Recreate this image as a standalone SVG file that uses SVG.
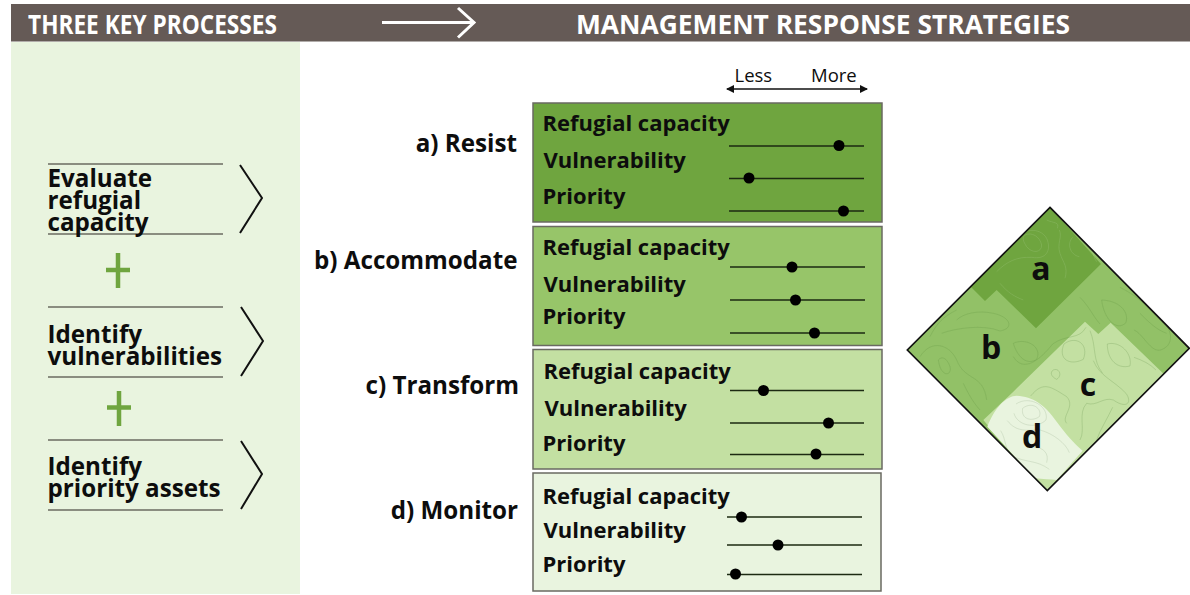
<svg xmlns="http://www.w3.org/2000/svg" width="1190" height="595" viewBox="0 0 1190 595">
<style>
text{font-family:"Open Sans","Noto Sans","Liberation Sans",sans-serif;fill:#0d0d0d}
.hd{font-size:26.9px;font-weight:700;fill:#fff}
.st{font-size:24.2px;font-weight:700}
.pr{font-size:24.2px;font-weight:700}
.rw{font-size:22px;font-weight:700}
.lm{font-size:18.500px;font-weight:400}
.dl{font-size:32px;font-weight:700}
.rule{stroke:#6b6b62;stroke-width:1.5;fill:none}
.box{stroke:#6a6a62;stroke-width:1.5}
.sl{stroke:#1c2a12;stroke-width:1.3}
.chev{fill:none;stroke:#111;stroke-width:2}
.plus{stroke:#6fa53f;stroke-width:4.5;fill:none}
.ca{fill:none;stroke:#cfe3bb;stroke-width:1.2;opacity:.4}
.cb{fill:none;stroke:#5f8f3e;stroke-width:1.200;opacity:.6}
.cc{fill:none;stroke:#6f9a55;stroke-width:1.200;opacity:.7}
.cd{fill:none;stroke:#9fb592;stroke-width:1.200;opacity:.7}
</style>
<defs>
<marker id="ah" viewBox="0 0 8 8" refX="7" refY="4" markerWidth="8" markerHeight="8" orient="auto-start-reverse" markerUnits="userSpaceOnUse"><path d="M0,0L8,4L0,8Z" fill="#111"/></marker>
<clipPath id="dia"><path d="M450,22L868,445L442,872L22,450Z"/></clipPath>
</defs>
<rect width="1190" height="595" fill="#fff"/>
<g id="header">
<rect x="11" y="4" width="1179" height="37.500" fill="#655a56"/>
<text class="hd" x="28" y="33.500" textLength="249" lengthAdjust="spacingAndGlyphs">THREE KEY PROCESSES</text>
<text class="hd" x="576" y="34" textLength="494" lengthAdjust="spacingAndGlyphs">MANAGEMENT RESPONSE STRATEGIES</text>
</g>
<rect id="panel" x="11" y="42" width="289" height="552" fill="#e9f4df"/>
<g id="connectors">
<path d="M382,22.500H473M458,8L474,22.500L458,37.500" fill="none" stroke="#fff" stroke-width="3"/>
<path class="chev" d="M240,165L262,198L240,233"/>
<path class="chev" d="M241,307L263,341L241,376"/>
<path class="chev" d="M241,441L262,474L241,509"/>
<path d="M727,89H867" stroke="#111" stroke-width="1.500" marker-start="url(#ah)" marker-end="url(#ah)" fill="none"/>
</g>
<g id="process-evaluate">
<path class="rule" d="M48,164H223M48,234H223"/>
<text class="pr" x="47.500" y="186.500">Evaluate</text><text class="pr" x="47.500" y="208.500">refugial</text><text class="pr" x="47.500" y="230.500">capacity</text>
</g>
<path id="plus-1" class="plus" d="M106,270H130M118,253V288"/>
<g id="process-vulnerabilities">
<path class="rule" d="M48,307H223M48,377H223"/>
<text class="pr" x="47.500" y="342.500">Identify</text><text class="pr" x="47.500" y="364.500">vulnerabilities</text>
</g>
<path id="plus-2" class="plus" d="M107,407.500H131M119,391V426"/>
<g id="process-priority">
<path class="rule" d="M48,440H223M48,510H223"/>
<text class="pr" x="47.500" y="474.500">Identify</text><text class="pr" x="47.500" y="496.500">priority assets</text>
</g>
<g id="scale">
<text class="lm" x="734.500" y="82">Less</text><text class="lm" x="811" y="82">More</text>
</g>
<g id="label-a"><text class="st" x="517" y="151.500" text-anchor="end">a) Resist</text></g>
<g id="label-b"><text class="st" x="517.500" y="268.500" text-anchor="end">b) Accommodate</text></g>
<g id="label-c"><text class="st" x="519" y="393.500" text-anchor="end">c) Transform</text></g>
<g id="label-d"><text class="st" x="518" y="518.500" text-anchor="end">d) Monitor</text></g>
<g id="box-a">
<rect class="box" x="533" y="103" width="349" height="119" fill="#6fa53f"/>
<text class="rw" x="542.500" y="131">Refugial capacity</text><text class="rw" x="543.500" y="167.500">Vulnerability</text><text class="rw" x="542.500" y="203.500">Priority</text>
<path class="sl" d="M729,146H864M729,178.500H864M729,211H864"/>
<circle cx="839" cy="145.500" r="5.500"/><circle cx="749" cy="178" r="5.500"/><circle cx="843.500" cy="211" r="5.500"/>
</g>
<g id="box-b">
<rect class="box" x="533" y="226.500" width="349" height="119" fill="#97c569"/>
<text class="rw" x="542.500" y="255">Refugial capacity</text><text class="rw" x="543.500" y="291.500">Vulnerability</text><text class="rw" x="542.500" y="323.500">Priority</text>
<path class="sl" d="M730,267H865M730,300H865M730,333H865"/>
<circle cx="792" cy="267" r="5.500"/><circle cx="795.500" cy="300" r="5.500"/><circle cx="814.500" cy="333" r="5.500"/>
</g>
<g id="box-c">
<rect class="box" x="533" y="349.500" width="349" height="119.500" fill="#c3e0a2"/>
<text class="rw" x="543.500" y="378.500">Refugial capacity</text><text class="rw" x="544.500" y="415.500">Vulnerability</text><text class="rw" x="542.500" y="450.500">Priority</text>
<path class="sl" d="M730,390.500H864M730,423H864M730,454.500H864"/>
<circle cx="763.500" cy="390.500" r="5.500"/><circle cx="828.500" cy="423" r="5.500"/><circle cx="816" cy="454" r="5.500"/>
</g>
<g id="box-d">
<rect class="box" x="533" y="473" width="348" height="118" fill="#e9f4df"/>
<text class="rw" x="542.500" y="504">Refugial capacity</text><text class="rw" x="543.500" y="537.500">Vulnerability</text><text class="rw" x="542.500" y="572">Priority</text>
<path class="sl" d="M727,517H862M727,545H862M727,574.500H862"/>
<circle cx="741.500" cy="517" r="5.500"/><circle cx="778" cy="545" r="5.500"/><circle cx="735.500" cy="574" r="5.500"/>
</g>
<g id="map">
<g transform="translate(900,200) scale(.3333)">
<g clip-path="url(#dia)">
<rect x="0" y="0" width="890" height="890" fill="#92c167"/>
<path d="M450,22L603,192L408,385L290,270L255,303L210,258Z" fill="#6fa53f"/>
<path d="M555,365L595,402L632,368L800,530L442,890L250,660L340,575Z" fill="#c3e0a2"/>
<path d="M262,680C285,620 320,588 350,587C400,590 432,612 470,665C500,705 520,728 548,752L470,840C450,838 430,838 405,835Z" fill="#e9f4df"/>
<path class="ca" d="M375,105C395,95 420,110 425,135C425,160 395,160 380,140C370,125 365,112 375,105M345,120C365,85 420,80 440,115C455,150 440,180 395,172C350,170 320,185 290,215M478,90C488,110 470,130 480,160C490,190 505,200 495,235M518,112C500,130 510,165 538,170M440,60C460,70 480,65 472,85M300,250C325,280 345,290 370,300M560,110C580,140 575,165 590,185"/>
<path class="cb" d="M125,400C165,385 250,372 300,393C345,385 330,350 280,340C235,330 190,340 170,360M60,470C95,415 150,435 170,480C195,545 250,520 260,600M115,480C125,468 140,472 150,500C158,528 122,535 115,480M340,430C378,412 428,440 410,478C380,498 352,470 340,430M340,470C370,520 420,480 458,432C500,402 538,420 558,382M605,300C655,302 688,332 678,368C650,396 612,358 605,300M660,262C718,290 750,330 780,352C826,398 818,438 782,450C752,458 730,402 702,390M540,292C568,320 580,350 600,372M190,550C208,588 222,610 240,630M170,330C130,350 110,370 90,410M720,340C745,365 770,390 800,400"/>
<path class="cc" d="M492,432C528,405 568,432 550,478C512,498 472,480 492,432M460,510C478,502 488,528 470,538C452,530 450,516 460,510M622,432C660,422 698,460 690,498C652,508 622,480 622,432M392,588C430,542 452,560 500,590C528,620 482,650 500,670M580,482C600,530 640,540 678,580C698,608 680,628 640,600C610,590 590,620 560,610C532,640 558,690 540,720M702,472C730,482 750,492 768,510M570,392C590,440 576,480 608,520M638,622C620,660 600,690 590,720"/>
<path class="cd" d="M368,625C395,603 428,625 418,650C395,666 362,658 368,625M348,612C390,584 448,620 438,660C410,688 352,678 342,640M322,662C350,698 382,690 420,690C458,700 498,730 508,758M302,692C320,720 312,750 340,770C380,788 410,780 448,808M402,742C430,742 448,760 440,788"/>
</g>
<path d="M450,22L868,445L442,872L22,450Z" fill="none" stroke="#111" stroke-width="5"/>
</g>
<text class="dl" x="1041" y="280" text-anchor="middle">a</text>
<text class="dl" x="991" y="359" text-anchor="middle">b</text>
<text class="dl" x="1088" y="396" text-anchor="middle">c</text>
<text class="dl" x="1032" y="448" text-anchor="middle">d</text>
</g>
</svg>
